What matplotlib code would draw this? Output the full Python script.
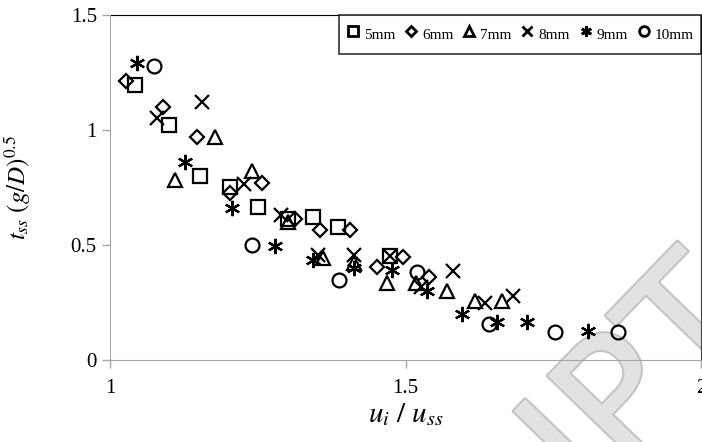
import matplotlib.pyplot as plt
import matplotlib.patheffects as pe

plt.rcParams["font.family"] = ["Liberation Serif", "DejaVu Serif"]
plt.rcParams["mathtext.fontset"] = "stix"

# series: (u_i/u_ss, t_ss (g/D)^0.5)
x_5mm = [1.042, 1.099, 1.152, 1.203, 1.251, 1.302, 1.344, 1.386, 1.473]
y_5mm = [1.196, 1.022, 0.800, 0.754, 0.667, 0.612, 0.623, 0.580, 0.452]

x_6mm = [1.027, 1.089, 1.147, 1.203, 1.257, 1.313, 1.355, 1.406, 1.451, 1.496, 1.540]
y_6mm = [1.213, 1.101, 0.971, 0.725, 0.769, 0.613, 0.565, 0.565, 0.406, 0.447, 0.363]

x_7mm = [1.110, 1.178, 1.240, 1.302, 1.361, 1.412, 1.469, 1.517, 1.570, 1.618, 1.663]
y_7mm = [0.783, 0.971, 0.820, 0.600, 0.442, 0.420, 0.335, 0.333, 0.299, 0.258, 0.258]

x_8mm = [1.079, 1.155, 1.226, 1.290, 1.352, 1.413, 1.473, 1.527, 1.581, 1.635, 1.682]
y_8mm = [1.054, 1.120, 0.766, 0.630, 0.457, 0.457, 0.452, 0.319, 0.386, 0.248, 0.278]

x_9mm = [1.045, 1.127, 1.206, 1.279, 1.344, 1.412, 1.477, 1.536, 1.596, 1.654, 1.705, 1.809]
y_9mm = [1.290, 0.862, 0.659, 0.496, 0.435, 0.399, 0.391, 0.299, 0.198, 0.167, 0.167, 0.127]

x_10mm = [1.075, 1.240, 1.388, 1.519, 1.641, 1.753, 1.860]
y_10mm = [1.280, 0.500, 0.348, 0.382, 0.158, 0.123, 0.123]

labels = ["5mm", "6mm", "7mm", "8mm", "9mm", "10mm"]
xticks = [1, 1.5, 2]
xtick_labels = ["1", "1.5", "2"]
yticks = [0, 0.5, 1, 1.5]
ytick_labels = ["0", "0.5", "1", "1.5"]

series = [(x_5mm, y_5mm), (x_6mm, y_6mm), (x_7mm, y_7mm),
          (x_8mm, y_8mm), (x_9mm, y_9mm), (x_10mm, y_10mm)]
markers = ["s", "D", "^", "x", (6, 2, 0), "o"]
sizes = [9.5, 7, 10, 10, 11, 10]

fig = plt.figure(figsize=(7.02, 4.42), dpi=100)
ax = fig.add_axes([0.1567, 0.1855, 0.8419, 0.7805])

for (xs, ys), m, s, lab in zip(series, markers, sizes, labels):
    ax.plot(xs, ys, linestyle="none", marker=m, markersize=s,
            markerfacecolor="none", markeredgecolor="black",
            markeredgewidth=1.6, color="black", label=lab, zorder=3)

ax.set_xlim(1, 2)
ax.set_ylim(0, 1.5)
ax.set_xticks(xticks)
ax.set_xticklabels(xtick_labels)
ax.set_yticks(yticks)
ax.set_yticklabels(ytick_labels)
ax.tick_params(axis="both", labelsize=15, color="#a6a6a6", length=6, width=1)
ax.tick_params(axis="x", pad=8)

for side in ["left", "bottom"]:
    ax.spines[side].set_color("#a6a6a6")
    ax.spines[side].set_zorder(4)
ax.spines["top"].set_color("black")
ax.spines["right"].set_color("#404040")

ax.set_xlabel(r"$u_i\ /\ u_{ss}$", fontsize=21, labelpad=2)
ax.set_ylabel(r"$t_{ss}\ (g/D)^{0.5}$", fontsize=18)
ax.yaxis.set_label_coords(-0.13, 0.5)

leg = ax.legend(loc="upper right", ncol=6, fontsize=11, frameon=True,
                fancybox=False, edgecolor="black", handlelength=0.8,
                handleheight=2.0, handletextpad=0.3, columnspacing=0.65,
                markerscale=0.7, borderaxespad=0, borderpad=0.5)
leg.get_frame().set_linewidth(1.2)
leg.set_zorder(5)
for h in leg.legend_handles:
    h.set_markeredgewidth(2.0)

# watermark, behind the markers
ax.text(0.917, 0.13, "IPT", transform=fig.transFigure, rotation=46,
        fontsize=120, color="#e2e2e2", family="DejaVu Sans",
        ha="center", va="center", zorder=1, clip_on=False,
        path_effects=[pe.withStroke(linewidth=3, foreground="#c4c4c4")])

fig.savefig("out.png", dpi=100)
